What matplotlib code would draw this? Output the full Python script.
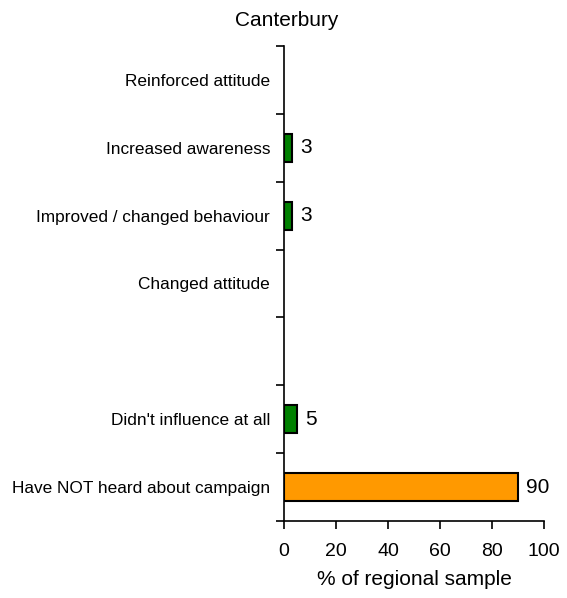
import matplotlib.pyplot as plt
from matplotlib.ticker import FixedLocator

plt.rcParams['font.family'] = ['Liberation Sans', 'DejaVu Sans']

# data (top to bottom), blank slot kept as a gap
categories = ['Reinforced attitude', 'Increased awareness', 'Improved / changed behaviour',
              'Changed attitude', '', "Didn't influence at all", 'Have NOT heard about campaign']
values = [0, 3, 3, 0, None, 5, 90]
colors = ['#008000', '#008000', '#008000', '#008000', '#008000', '#008000', '#FF9900']

fig = plt.figure(figsize=(5.67, 5.98), dpi=100)
ax = fig.add_axes([0.5009, 0.1288, 0.4585, 0.7943])

pos = list(range(len(categories)))
for p, v, c in zip(pos, values, colors):
    if v:
        ax.barh(p, v, height=0.41, color=c, edgecolor='black', linewidth=1.5)
        ax.annotate(str(v), (v, p), xytext=(6, 0), textcoords='offset points',
                    va='center', ha='left', fontsize=15)

ax.set_ylim(len(categories) - 0.5, -0.5)
ax.set_xlim(0, 100)
ax.set_xticks([0, 20, 40, 60, 80, 100])
ax.tick_params(axis='x', labelsize=14, length=6, width=1.2, pad=10, direction='out')

# ticks at the boundaries, labels at the centres
ax.yaxis.set_major_locator(FixedLocator([i - 0.5 for i in range(len(categories) + 1)]))
ax.yaxis.set_major_formatter(plt.NullFormatter())
ax.yaxis.set_minor_locator(FixedLocator(pos))
ax.set_yticklabels(categories, minor=True)
ax.tick_params(axis='y', which='major', length=6, width=1.2, direction='out')
ax.tick_params(axis='y', which='minor', length=0, labelsize=12.4, pad=10)

for s in ['top', 'right']:
    ax.spines[s].set_visible(False)
for s in ['left', 'bottom']:
    ax.spines[s].set_linewidth(1.2)

ax.set_xlabel('% of regional sample', fontsize=15, labelpad=7)
fig.text(0.506, 0.966, 'Canterbury', ha='center', va='center', fontsize=15)

plt.savefig('out.png', dpi=100)
